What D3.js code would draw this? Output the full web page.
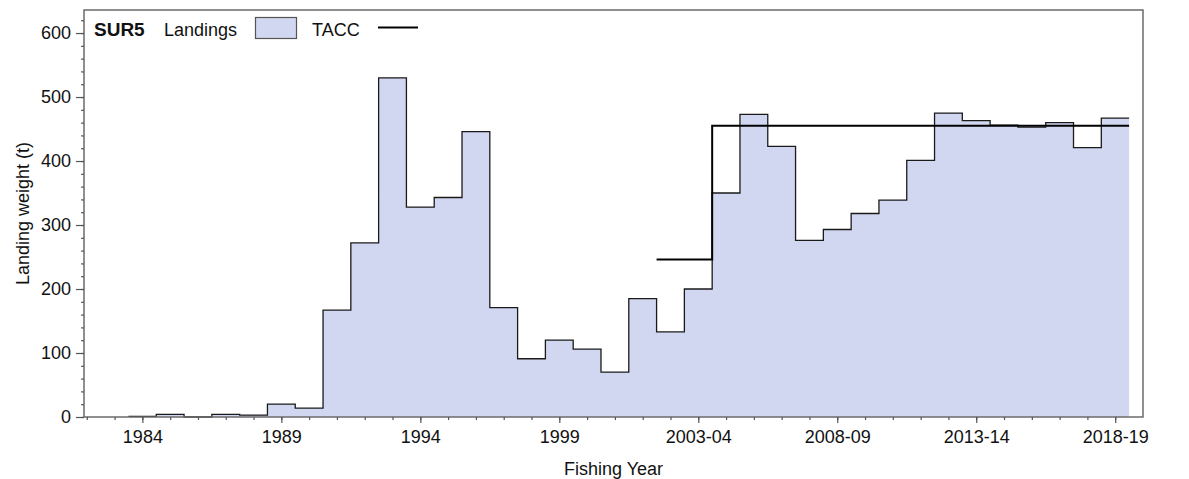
<!DOCTYPE html>
<html>
<head>
<meta charset="utf-8">
<script src="https://cdn.jsdelivr.net/npm/d3@7"></script>
<style>
  html, body { margin: 0; padding: 0; background: #ffffff; }
  svg { display: block; font-family: "Liberation Sans", Arial, sans-serif; }
</style>
</head>
<body>
<svg id="chart" width="1189" height="479"></svg>
<script>
// ---- data ----
const categories = ["1982","1983","1984","1985","1986","1987","1988","1989","1990","1991",
  "1992","1993","1994","1995","1996","1997","1998","1999","2000","2001",
  "2001-02","2002-03","2003-04","2004-05","2005-06","2006-07","2007-08","2008-09","2009-10","2010-11",
  "2011-12","2012-13","2013-14","2014-15","2015-16","2016-17","2017-18","2018-19"];
const landings = [null,null,1,4,0,4,3,20,14,167,
  272,530,328,343,446,171,91,120,106,70,
  185,133,200,350,473,423,276,293,318,339,
  401,475,463,456,453,460,421,467];
const tacc = [null,null,null,null,null,null,null,null,null,null,
  null,null,null,null,null,null,null,null,null,null,
  null,246,246,455,455,455,455,455,455,455,
  455,455,455,455,455,455,455,455];
const labelledCategories = ["1984","1989","1994","1999","2003-04","2008-09","2013-14","2018-19"];
const yTicks = [0,100,200,300,400,500,600];
const stockName = "SUR5";

(function () {
// ---- layout ----
const svg = d3.select("#chart");
const mLeft = 84, mRight = 1143, mTop = 10, mBottom = 417;

const x = d3.scaleLinear().domain([-0.1, 38]).range([mLeft, mRight]);
const y = d3.scaleLinear().domain([0, 636]).range([mBottom, mTop]);

function stepPoints(values) {
  const idx = values.map((v, i) => v == null ? -1 : i).filter(i => i >= 0);
  const pts = idx.map(i => [i - 0.5, values[i]]);
  const last = idx[idx.length - 1];
  pts.push([last + 0.5, values[last]]);
  return pts;
}

const landPts = stepPoints(landings);
const taccPts = stepPoints(tacc);

// fill
svg.append("path")
  .datum(landPts)
  .attr("fill", "#d2d7f1")
  .attr("stroke", "none")
  .attr("d", d3.area().curve(d3.curveStepAfter)
    .x(d => x(d[0])).y0(y(0)).y1(d => y(d[1])));

// landings outline
svg.append("path")
  .datum(landPts)
  .attr("fill", "none")
  .attr("stroke", "#1a1a1a")
  .attr("stroke-width", 1.3)
  .attr("d", d3.line().curve(d3.curveStepAfter).x(d => x(d[0])).y(d => y(d[1])));

// TACC
svg.append("path")
  .datum(taccPts)
  .attr("fill", "none")
  .attr("stroke", "#000000")
  .attr("stroke-width", 2)
  .attr("d", d3.line().curve(d3.curveStepAfter).x(d => x(d[0])).y(d => y(d[1])));

// frame
svg.append("rect")
  .attr("x", mLeft).attr("y", mTop)
  .attr("width", mRight - mLeft).attr("height", mBottom - mTop)
  .attr("fill", "none").attr("stroke", "#6b6b6b").attr("stroke-width", 1.5);

// x axis
const majorIdx = labelledCategories.map(c => categories.indexOf(c));
const xMinor = svg.append("g").attr("transform", `translate(0,${mBottom})`)
  .call(d3.axisBottom(x).tickValues(d3.range(0, 38)).tickSize(3).tickFormat(""));
const xMajor = svg.append("g").attr("transform", `translate(0,${mBottom})`)
  .call(d3.axisBottom(x).tickValues(majorIdx).tickSize(6).tickPadding(7)
    .tickFormat(i => categories[i]));
[xMinor, xMajor].forEach(g => {
  g.select(".domain").remove();
  g.selectAll(".tick line").attr("stroke", "#555").attr("stroke-width", 1.2);
});
xMajor.selectAll("text").attr("font-size", 18).attr("fill", "#111")
  .attr("font-family", "'Liberation Sans', Arial, sans-serif");

// y axis
const yMinor = svg.append("g").attr("transform", `translate(${mLeft},0)`)
  .call(d3.axisLeft(y).tickValues(d3.range(0, 621, 20)).tickSize(3).tickFormat(""));
const yMajor = svg.append("g").attr("transform", `translate(${mLeft},0)`)
  .call(d3.axisLeft(y).tickValues(yTicks).tickSize(8).tickPadding(5).tickFormat(d3.format("d")));
[yMinor, yMajor].forEach(g => {
  g.select(".domain").remove();
  g.selectAll(".tick line").attr("stroke", "#555").attr("stroke-width", 1.2);
});
yMajor.selectAll("text").attr("font-size", 18).attr("fill", "#111")
  .attr("font-family", "'Liberation Sans', Arial, sans-serif");

// axis titles
svg.append("text")
  .attr("x", (mLeft + mRight) / 2).attr("y", 475)
  .attr("text-anchor", "middle").attr("font-size", 18).attr("fill", "#111")
  .text("Fishing Year");
svg.append("text")
  .attr("transform", `translate(29,${(mTop + mBottom) / 2}) rotate(-90)`)
  .attr("text-anchor", "middle").attr("font-size", 18).attr("fill", "#111")
  .text("Landing weight (t)");

// legend
const lg = svg.append("g");
lg.append("text").attr("x", 94).attr("y", 36).attr("font-size", 19).attr("font-weight", "bold")
  .attr("fill", "#111").text(stockName);
lg.append("text").attr("x", 164).attr("y", 36).attr("font-size", 18).attr("fill", "#111").text("Landings");
lg.append("rect").attr("x", 255.5).attr("y", 17.5).attr("width", 41).attr("height", 21)
  .attr("fill", "#d2d7f1").attr("stroke", "#555").attr("stroke-width", 1.2);
lg.append("text").attr("x", 312).attr("y", 36).attr("font-size", 18).attr("fill", "#111").text("TACC");
lg.append("line").attr("x1", 378).attr("x2", 418).attr("y1", 27.5).attr("y2", 27.5)
  .attr("stroke", "#000").attr("stroke-width", 2);
})();
</script>
</body>
</html>
